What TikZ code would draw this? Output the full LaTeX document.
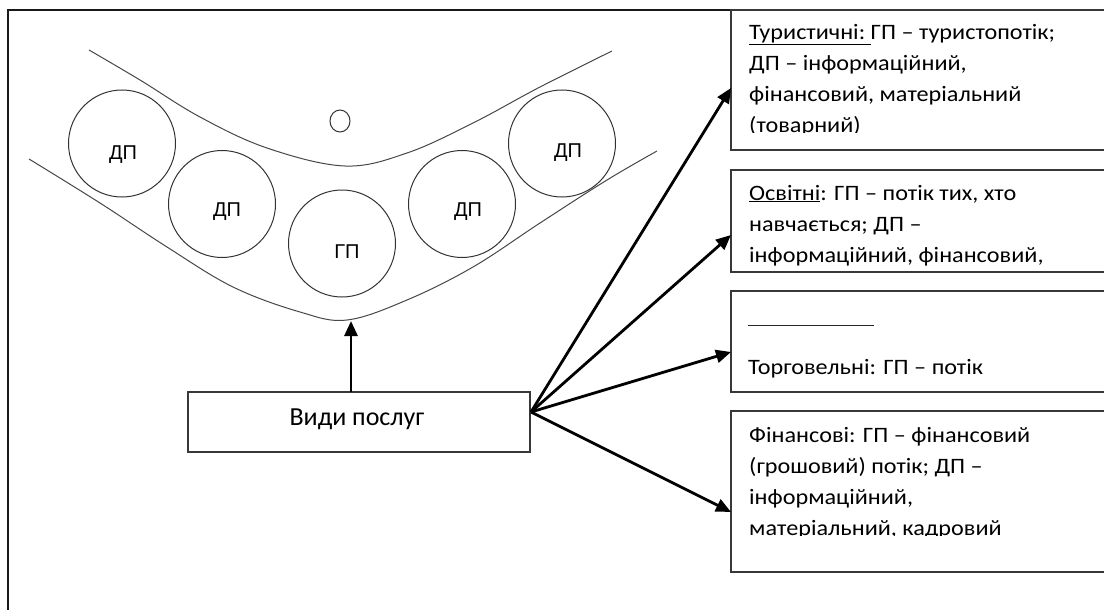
\documentclass[tikz,border=0pt]{standalone}
\usepackage{fontspec}
\setmainfont{Carlito}
\newfontfamily\boxf[FakeStretch=1.1]{Carlito}
\newfontfamily\arialf{Liberation Sans}
\usetikzlibrary{arrows.meta,shapes.geometric,calc}
\begin{document}
\begin{tikzpicture}[x=1pt,y=-1pt,
  frame/.style={draw=black!90, line width=1.2pt},
  tbox/.style={draw=black!78, line width=1.3pt, rectangle, inner sep=0pt, outer sep=0pt},
  curve/.style={draw=black!72, line width=1pt},
  ring/.style={draw=black!80, line width=1pt, circle, inner sep=0pt, outer sep=0pt, minimum size=107pt},
  flow/.style={line width=2.8pt, -{Triangle[length=15pt,width=13pt]}},
  btxt/.style={anchor=base west, inner sep=0pt, font=\boxf\fontsize{22}{31}\selectfont},
  lbl/.style={font=\arialf\fontsize{20}{22}\selectfont, inner sep=0pt},
  uline/.style={draw=black!85, line width=1pt}
]
\useasboundingbox (0,0) rectangle (1104,610);
\clip (0,0) rectangle (1104,610);
\fill[white] (0,0) rectangle (1104,610);
\draw[frame] (8,10) rectangle (1140,650);

% channel curves
\draw[curve] plot[smooth, tension=0.6] coordinates {(89,50) (140,80) (200,117) (267,148) (345,166) (407,153) (473,123) (540,87) (612,51)};
\draw[curve] plot[smooth, tension=0.6] coordinates {(29,159) (100,203) (167,247) (233,287) (300,312) (347,320) (407,300) (473,267) (540,223) (607,180) (657,151)};

% circles
\node[ring] (c1) at (122,143.5) {};
\node[ring] (c2) at (222,204) {};
\node[ring] (c3) at (342,243.5) {};
\node[ring] (c4) at (462,204) {};
\node[ring] (c5) at (562,143.5) {};
\node[draw=black!80, line width=1pt, ellipse, minimum width=20pt, minimum height=22pt, inner sep=0pt] (o) at (340,121) {};
\node[lbl] (l1) at (123,155) {ДП};
\node[lbl] (l2) at (227,212) {ДП};
\node[lbl] (l3) at (347,252) {ГП};
\node[lbl] (l4) at (468,212) {ДП};
\node[lbl] (l5) at (568,153) {ДП};

% services box
\node[tbox, minimum width=342pt, minimum height=60pt] (vp) at (359,422) {};
\node[anchor=base, inner sep=0pt, font=\fontsize{26}{30}\selectfont] (vpt) at (357,425) {Види послуг};
\coordinate (up0) at (351,392);
\coordinate (up1) at (351,321);
\draw[flow] (up0) -- (up1);

% right boxes
\node[tbox, anchor=north west, minimum width=420pt, minimum height=140pt] (b1) at (731,10) {};
\node[tbox, anchor=north west, minimum width=420pt, minimum height=102pt] (b2) at (731,170) {};
\node[tbox, anchor=north west, minimum width=420pt, minimum height=101pt] (b3) at (731,291) {};
\node[tbox, anchor=north west, minimum width=420pt, minimum height=161pt] (b4) at (731,411) {};

\begin{scope}
\clip (731,10) rectangle (1104,132.3);
\node[btxt] (t1a) at (749,39.3) {\underline{Туристичні:\ }ГП – туристопотік;};
\node[btxt] (t1b) at (749,70.3) {ДП – інформаційний,};
\node[btxt] (t1c) at (749,101.3) {фінансовий, матеріальний};
\node[btxt] (t1d) at (749,132.3) {(товарний)};
\end{scope}

\begin{scope}
\clip (731,170) rectangle (1104,270);
\node[btxt] (t2a) at (749,200) {\underline{Освітні}: ГП – потік тих, хто};
\node[btxt] (t2b) at (749,231) {навчається; ДП –};
\node[btxt] (t2c) at (749,262) {інформаційний, фінансовий,};
\end{scope}

\draw[uline] (748,325) -- (874,325);
\node[btxt] (t3a) at (748,374) {Торговельні: ГП – потік};

\begin{scope}
\clip (731,411) rectangle (1104,535);
\node[btxt] (t4a) at (749,442) {Фінансові: ГП – фінансовий};
\node[btxt] (t4b) at (749,473) {(грошовий) потік; ДП –};
\node[btxt] (t4c) at (749,504) {інформаційний,};
\node[btxt] (t4d) at (749,535) {матеріальний, кадровий};
\end{scope}

% arrows
\coordinate (src) at (531,412);
\coordinate (a1) at ($(b1.north west)+(0,78)$);
\coordinate (a2) at ($(b2.north west)+(0,65)$);
\coordinate (a3) at ($(b3.north west)+(0,61)$);
\coordinate (a4) at ($(b4.north west)+(0,101)$);
\draw[flow] (src) -- (a1);
\draw[flow] (src) -- (a2);
\draw[flow] (src) -- (a3);
\draw[flow] (src) -- (a4);
\end{tikzpicture}
\end{document}
